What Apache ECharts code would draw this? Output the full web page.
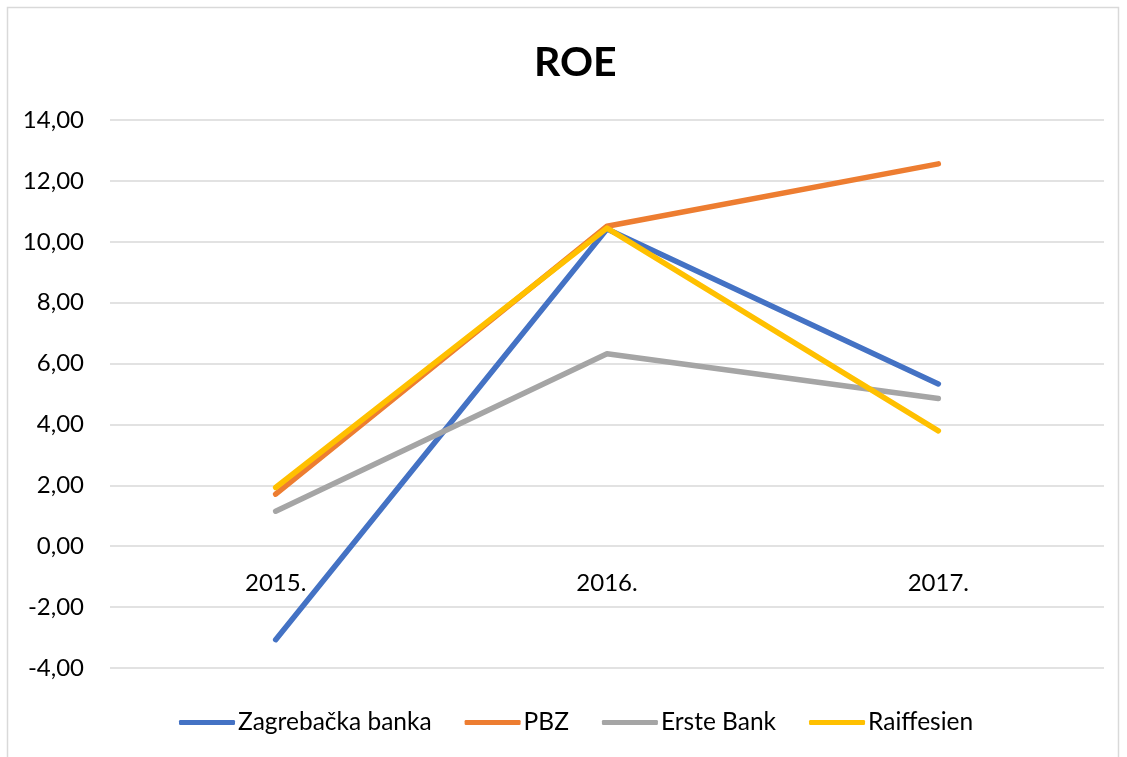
<!DOCTYPE html>
<html>
<head>
<meta charset="utf-8">
<script src="https://cdn.jsdelivr.net/npm/echarts@6/dist/echarts.min.js"></script>
<style>
html,body{margin:0;padding:0;background:#fff;}
#c{width:1127px;height:757px;}
</style>
</head>
<body>
<div id="c"></div>
<script>
var categories = ['2015.', '2016.', '2017.'];
var zagrebacka = [-3.07, 10.42, 5.33];
var pbz = [1.71, 10.51, 12.56];
var erste = [1.15, 6.32, 4.85];
var raiffesien = [1.93, 10.45, 3.79];
var seriesNames = ['Zagrebačka banka', 'PBZ', 'Erste Bank', 'Raiffesien'];
var colors = ['#4472C4', '#ED7D31', '#A5A5A5', '#FFC000'];

var FONT = 'Lato';
var chart = echarts.init(document.getElementById('c'));
function mk(name, data, color) {
  return {
    name: name, type: 'line', data: data, symbol: 'none',
    lineStyle: {width: 5.5, color: color, cap: 'round', join: 'round'},
    itemStyle: {color: color}
  };
}
chart.setOption({
  backgroundColor: '#fff',
  animation: false,
  title: {
    text: 'ROE', left: 529, top: 37,
    textStyle: {fontFamily: FONT, fontSize: 41, fontWeight: 'bold', color: '#000'}
  },
  legend: {
    bottom: 17, left: 174, itemWidth: 56, itemHeight: 5, itemGap: 33,
    icon: 'roundRect',
    textStyle: {fontFamily: FONT, fontSize: 24.5, color: '#000', padding: [0,0,0,-2]},
    data: seriesNames
  },
  grid: {left: 110, right: 23, top: 120, bottom: 89},
  xAxis: {
    type: 'category', data: categories, boundaryGap: true,
    offset: -122,
    axisLine: {show: false, onZero: false},
    axisTick: {show: false},
    axisLabel: {fontFamily: FONT, fontSize: 24, color: '#000', margin: 25}
  },
  yAxis: {
    type: 'value', min: -4, max: 14, interval: 2,
    axisLine: {show: false}, axisTick: {show: false},
    splitLine: {lineStyle: {color: '#D9D9D9', width: 1.5}},
    axisLabel: {fontFamily: FONT, fontSize: 24, color: '#000', margin: 26,
      formatter: function (v) { return v.toFixed(2).replace('.', ','); }}
  },
  graphic: [{
    type: 'rect', shape: {x: 7.5, y: 7.5, width: 1111, height: 770},
    style: {fill: 'none', stroke: '#D9D9D9', lineWidth: 1.5}, silent: true
  }],
  series: [
    mk(seriesNames[0], zagrebacka, colors[0]),
    mk(seriesNames[1], pbz, colors[1]),
    mk(seriesNames[2], erste, colors[2]),
    mk(seriesNames[3], raiffesien, colors[3])
  ]
});
</script>
</body>
</html>
